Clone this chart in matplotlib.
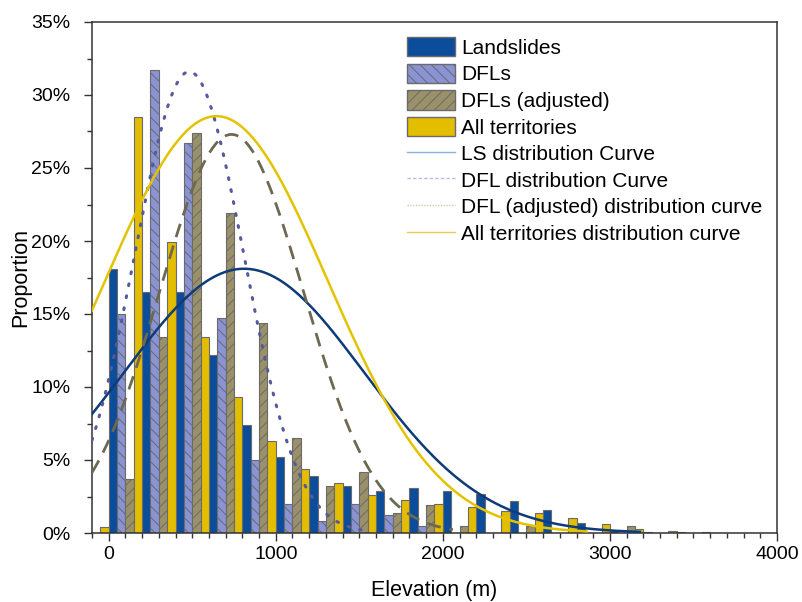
import numpy as np
import matplotlib
matplotlib.use("Agg")
import matplotlib.pyplot as plt
from matplotlib.patches import Patch
from matplotlib.lines import Line2D
from matplotlib.ticker import MultipleLocator, FuncFormatter

plt.rcParams['font.family'] = ['Liberation Sans', 'DejaVu Sans']
plt.rcParams['hatch.linewidth'] = 0.7

# Elevation bins (centres, m) and proportion per bin (%)
bin_centers = [-100, 100, 300, 500, 700, 900, 1100, 1300, 1500, 1700, 1900,
               2100, 2300, 2500, 2700, 2900, 3100, 3300, 3500, 3700, 3900]
landslides = [0, 18.1, 16.5, 16.5, 12.2, 7.4, 5.2, 3.9, 3.2, 2.9, 3.05,
              2.9, 2.65, 2.2, 1.55, 0.7, 0.15, 0.1, 0.05, 0, 0]
dfls = [0, 15.0, 31.7, 26.7, 14.7, 5.0, 2.0, 0.8, 2.0, 1.2, 0.45,
        0, 0, 0, 0, 0, 0, 0, 0, 0, 0]
dfls_adj = [0, 3.7, 13.4, 27.4, 21.9, 14.4, 6.5, 3.25, 4.2, 1.4, 1.9,
            0.5, 0, 0.5, 0, 0, 0.5, 0, 0, 0, 0]
all_terr = [0.4, 28.5, 19.9, 13.4, 9.3, 6.3, 4.4, 3.4, 2.6, 2.25, 2.0,
            1.8, 1.5, 1.35, 1.05, 0.6, 0.3, 0.15, 0.05, 0.03, 0]

# fitted normal curves: mean (m), sd (m), peak (%), last x drawn (m)
ls_fit = (810, 720, 18.1, 3180)
dfl_fit = (482, 325, 31.6, 1510)
adj_fit = (735, 430, 27.3, 2060)
all_fit = (645, 665, 28.55, 2860)

c_ls, c_dfl, c_adj, c_all = '#0b4c9b', '#8a93d4', '#9b9169', '#e3bd00'
edge = '#6a6a6a'

fig = plt.figure(figsize=(8.03, 6.02), dpi=100)
ax = fig.add_axes([92 / 803, 1 - 533 / 602, (777 - 92) / 803, (533 - 22) / 602])

x = np.array(bin_centers, dtype=float)
w = 50
series = [(landslides, c_ls, None), (dfls, c_dfl, '\\\\\\'),
          (dfls_adj, c_adj, '///'), (all_terr, c_all, None)]
for i, (vals, col, hatch) in enumerate(series):
    h = np.array(vals) / 100
    ax.bar(x + (i - 1.5) * w, h, width=w, color=col, edgecolor=edge,
           linewidth=0.8, hatch=hatch, zorder=2)


def curve(fit):
    mu, sd, peak, xend = fit
    xs = np.linspace(-100, xend, 400)
    return xs, peak / 100 * np.exp(-0.5 * ((xs - mu) / sd) ** 2)


ax.plot(*curve(ls_fit), color='#0f3b78', lw=1.8, zorder=3)
ax.plot(*curve(dfl_fit), color='#545a9a', lw=2.2, ls=(0, (0.6, 3.4)),
        dash_capstyle='round', zorder=3)
ax.plot(*curve(adj_fit), color='#6d6852', lw=2.0, ls=(0, (5, 3.2)), zorder=3)
ax.plot(*curve(all_fit), color='#e3c300', lw=1.8, zorder=3)

ax.set_xlim(-100, 4000)
ax.set_ylim(0, 0.35)
ax.xaxis.set_major_locator(MultipleLocator(1000))
ax.xaxis.set_minor_locator(MultipleLocator(100))
ax.yaxis.set_major_locator(MultipleLocator(0.05))
ax.yaxis.set_minor_locator(MultipleLocator(0.025))
ax.yaxis.set_major_formatter(FuncFormatter(lambda v, p: f"{v * 100:.0f}%"))
ax.tick_params(which='both', direction='out', top=False, right=False,
               width=1, color='#333333')
ax.tick_params(which='major', length=5.5, labelsize=14)
ax.tick_params(axis='x', which='major', pad=4)
ax.tick_params(axis='y', which='major', pad=10)
ax.tick_params(which='minor', length=3.5)
for s in ['left', 'bottom', 'right', 'top']:
    ax.spines[s].set_linewidth(1.1)
    ax.spines[s].set_color('#333333')

ax.set_xlabel("Elevation (m)", fontsize=15.5, labelpad=12)
ax.set_ylabel("Proportion", fontsize=15.5, labelpad=0)

handles = [
    Patch(facecolor=c_ls, edgecolor=edge, label='Landslides'),
    Patch(facecolor=c_dfl, edgecolor=edge, hatch='\\\\\\', label='DFLs'),
    Patch(facecolor=c_adj, edgecolor=edge, hatch='///', label='DFLs (adjusted)'),
    Patch(facecolor=c_all, edgecolor=edge, label='All territories'),
    Line2D([], [], color='#8ab0de', lw=1.0, label='LS distribution Curve'),
    Line2D([], [], color='#b8bde8', lw=1.0, ls=(0, (2.5, 1.5)),
           label='DFL distribution Curve'),
    Line2D([], [], color='#d4cca4', lw=1.0, ls=(0, (1, 1)),
           label='DFL (adjusted) distribution curve'),
    Line2D([], [], color='#e6cf50', lw=1.0, label='All territories distribution curve'),
]
fig.legend(handles=handles, loc='upper left',
           bbox_to_anchor=(407 / 803, 1 - 37 / 602), bbox_transform=fig.transFigure,
           frameon=False, fontsize=15, handlelength=2.3, handleheight=1.05,
           handletextpad=0.3, labelspacing=0.28, borderpad=0, borderaxespad=0)

fig.savefig("out.png", dpi=100)
